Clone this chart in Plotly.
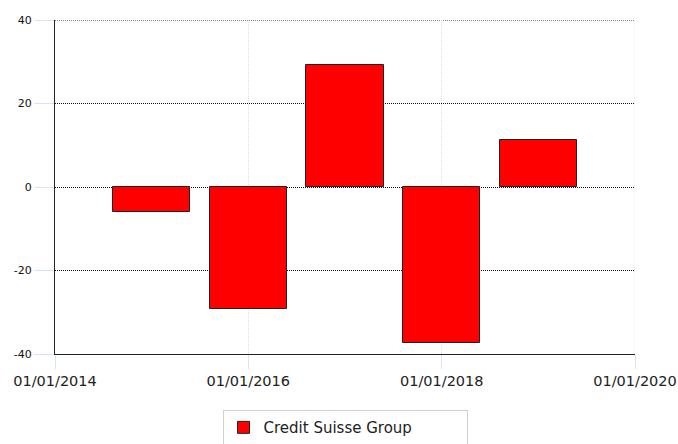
import plotly.graph_objects as go

dates = ["2015-01-01", "2016-01-01", "2017-01-01", "2018-01-01", "2019-01-01"]
values = [-6.1, -29.3, 29.3, -37.3, 11.2]
series_name = "Credit Suisse Group"
x_range = ["2014-01-01", "2020-01-01"]
y_range = [-40, 40]
y_tickvals = [-40, -20, 0, 20, 40]
y_ticktext = ["-40", "-20", "0", "20", "40"]

bar_width_ms = 0.8 * 365.25 * 24 * 3600 * 1000

fig = go.Figure()
fig.add_trace(go.Bar(
    x=dates, y=values, name=series_name,
    width=[bar_width_ms] * len(dates),
    marker=dict(color="#ff0000", line=dict(color="#222222", width=1)),
    showlegend=True,
))

fig.update_layout(
    width=678, height=444,
    margin=dict(l=55, r=43, t=20, b=90, autoexpand=False),
    paper_bgcolor="white", plot_bgcolor="white",
    font=dict(family="DejaVu Sans", color="#222222"),
    showlegend=True,
    legend=dict(
        orientation="h", x=0.5, xanchor="center", y=-0.168, yanchor="top",
        bordercolor="#d0d0d0", borderwidth=1,
        font=dict(size=15, color="#222222"),
        entrywidth=198,
    ),
    bargap=0,
)
# gridlines at the range ends (plotly omits those at the plot edges)
fig.add_shape(type="line", xref="paper", x0=0, x1=1, yref="y", y0=y_range[1], y1=y_range[1],
              line=dict(color="#000000", width=1, dash="1px,1px"), layer="below")
fig.add_shape(type="line", xref="x", x0=x_range[1], x1=x_range[1], yref="paper", y0=0, y1=1,
              line=dict(color="#d0e0f4", width=1, dash="1px,1px"), layer="below")

fig.update_xaxes(
    type="date",
    range=x_range,
    tick0="2014-01-01", dtick="M24",
    tickformat="%d/%m/%Y",
    tickfont=dict(size=14.5, color="#222222"),
    showline=True, linecolor="#222222", linewidth=1,
    showgrid=True, gridcolor="#d0e0f4", griddash="1px,1px", gridwidth=1,
    ticks="outside", ticklen=14, tickcolor="#d6e4f5",
    zeroline=False, automargin=False,
)
fig.update_yaxes(
    range=y_range, tickmode="array", tickvals=y_tickvals, ticktext=y_ticktext,
    tickfont=dict(size=11, color="#111111"),
    showline=True, linecolor="#222222", linewidth=1,
    showgrid=True, gridcolor="#111111", griddash="1px,1px", gridwidth=1,
    ticks="outside", ticklen=20, tickcolor="#d6e4f5",
    zeroline=False, automargin=False,
)

fig.write_html("out.html", config={"displayModeBar": False})

with open("out.html", "r", encoding="utf-8") as f:
    html = f.read()
html = html.replace("<head>", "<head><style>html,body{margin:0;padding:0;overflow:hidden;}</style>", 1)
with open("out.html", "w", encoding="utf-8") as f:
    f.write(html)
